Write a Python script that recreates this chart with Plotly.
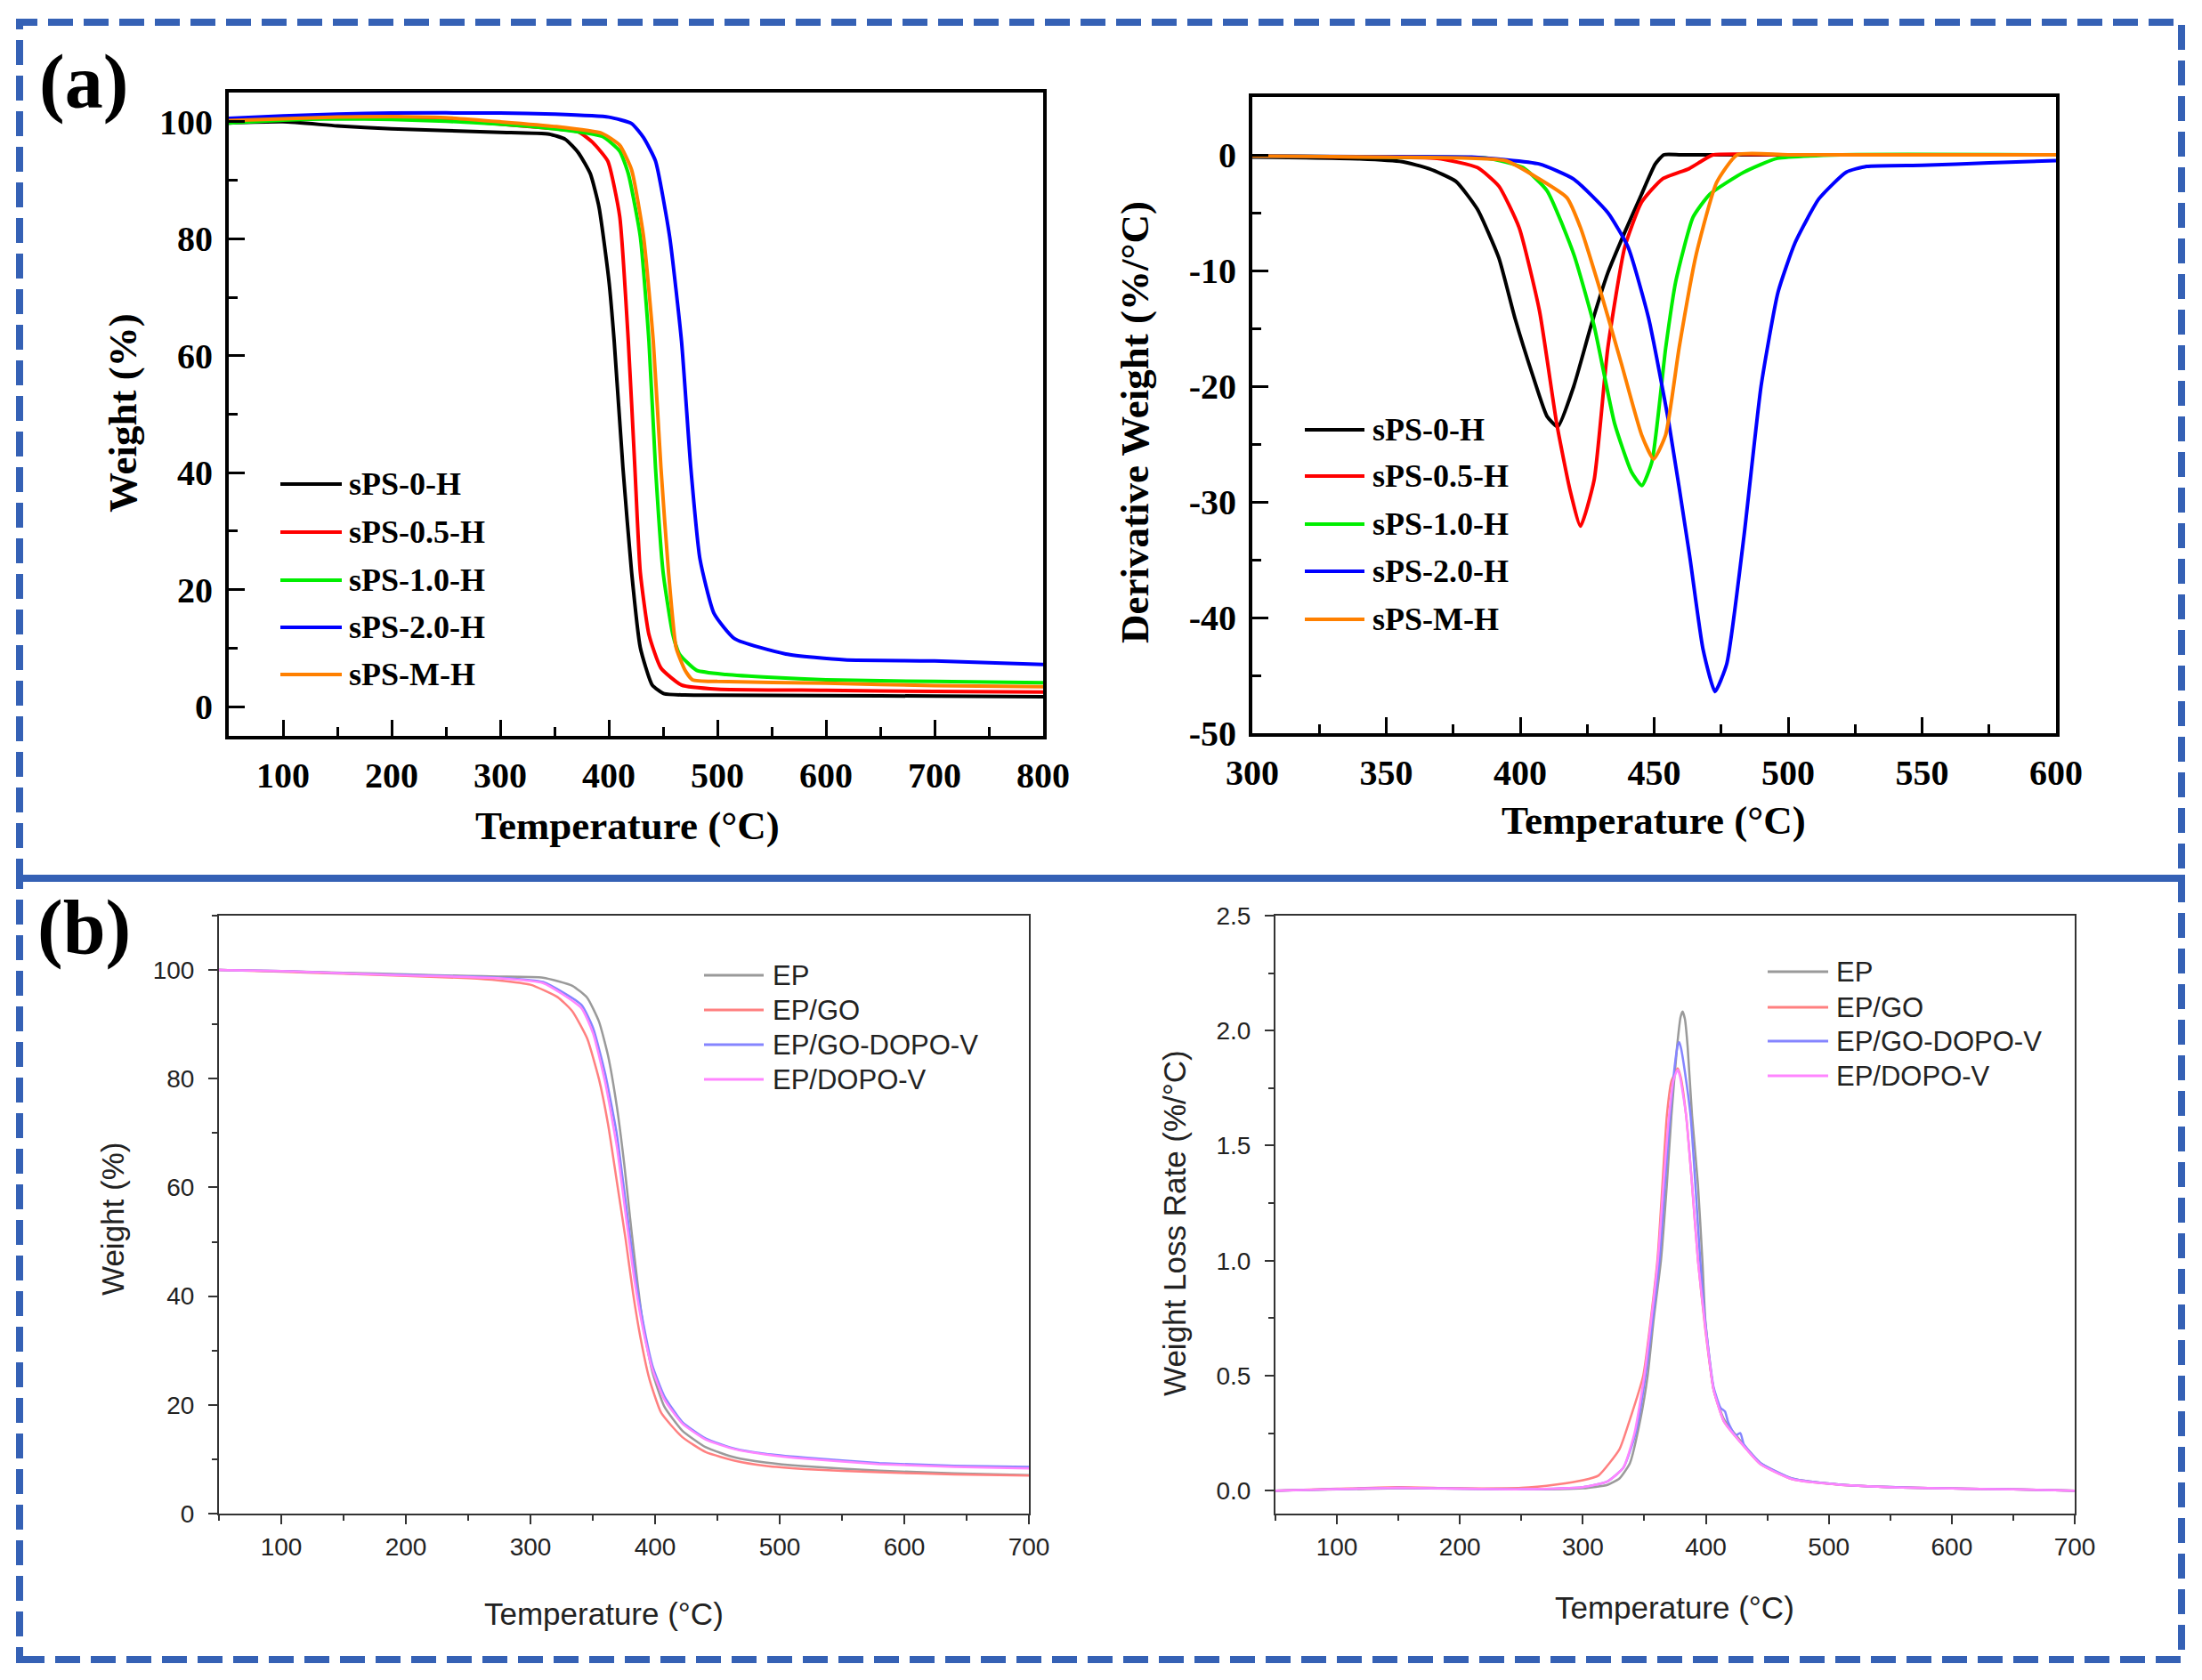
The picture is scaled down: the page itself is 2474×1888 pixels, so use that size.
import plotly.graph_objects as go

W_PX, H_PX = 2474, 1888

# ---------------- Panel (a) left: TGA of sPS samples ----------------
a_names = ["sPS-0-H", "sPS-0.5-H", "sPS-1.0-H", "sPS-2.0-H", "sPS-M-H"]
a_colors = ["#000000", "#ff0000", "#00ee00", "#0000ff", "#ff8000"]

tga_a_t_0 = [50, 100, 150, 200, 250, 300, 345, 360, 372, 383, 391, 400, 405, 413, 421, 429, 440, 451, 470, 500, 600, 700, 800]
tga_a_w_0 = [99.8, 100.0, 99.3, 98.8, 98.5, 98.2, 97.9, 97.0, 94.7, 91.1, 85.4, 73.0, 62.4, 40.9, 23.0, 10.1, 3.7, 2.2, 2.0, 1.95, 1.9, 1.8, 1.7]

tga_a_t_05 = [50, 100, 150, 200, 250, 300, 340, 372, 385, 399, 410, 418, 424, 429, 437, 448, 467, 500, 600, 700, 800]
tga_a_w_05 = [100.3, 100.6, 100.8, 100.8, 100.4, 99.6, 99.0, 98.3, 96.5, 93.3, 83.9, 62.4, 40.9, 23.0, 12.3, 6.6, 3.7, 3.0, 2.8, 2.6, 2.5]

tga_a_t_10 = [50, 100, 150, 200, 250, 300, 350, 394, 410, 418, 429, 437, 443, 450, 459, 465, 481, 508, 550, 600, 700, 800]
tga_a_w_10 = [99.8, 100.3, 100.5, 100.4, 100.1, 99.6, 98.8, 97.5, 95.0, 91.1, 80.4, 62.4, 40.9, 23.0, 12.3, 9.0, 6.2, 5.5, 5.0, 4.6, 4.3, 4.1]

tga_a_t_20 = [50, 100, 150, 200, 300, 350, 400, 421, 432, 443, 456, 467, 475.5, 484, 497, 516, 563, 617, 700, 800]
tga_a_w_20 = [100.6, 101.0, 101.3, 101.5, 101.5, 101.3, 100.8, 99.7, 97.3, 93.3, 80.4, 62.4, 40.9, 25.2, 15.9, 11.6, 9.0, 8.0, 7.8, 7.2]

tga_a_t_m = [50, 100, 150, 200, 250, 300, 350, 394, 410, 421, 432, 441, 448, 455, 462, 470, 477, 500, 600, 700, 800]
tga_a_w_m = [100.2, 100.5, 100.8, 100.9, 100.7, 100.0, 99.2, 98.0, 96.0, 91.8, 80.4, 62.4, 40.9, 23.0, 10.1, 6.3, 4.6, 4.3, 4.0, 3.6, 3.4]

# ---------------- Panel (a) right: DTG of sPS samples ----------------
dtg_a_t_0 = [300, 320, 340, 356, 366, 376, 384, 392, 398, 405, 410, 414, 420, 426.4, 432.7, 439, 445.3, 450.4, 453.6, 460, 500, 550, 600]
dtg_a_d_0 = [-0.2, -0.25, -0.35, -0.6, -1.2, -2.3, -4.7, -8.9, -14.1, -19.3, -22.6, -23.5, -20.0, -14.8, -10.2, -6.7, -3.4, -0.8, 0.0, 0.0, 0.0, 0.0, 0.0]

dtg_a_t_05 = [300, 340, 369, 384, 392, 399.6, 407.2, 413.6, 418.7, 422.5, 427.6, 432.7, 439, 445.3, 453, 463, 468, 472, 500, 550, 600]
dtg_a_d_05 = [-0.1, -0.2, -0.3, -1.1, -2.7, -6.3, -13.5, -23.2, -29.1, -32.1, -28.1, -16.7, -8.0, -4.1, -2.1, -1.2, -0.5, 0.0, 0.0, 0.0, 0.0]

dtg_a_t_10 = [300, 350, 388, 401, 410, 420, 427.6, 435.2, 441.5, 445.4, 449.2, 454.3, 458.1, 464.5, 470.8, 483.5, 496, 520, 600]
dtg_a_d_10 = [-0.1, -0.2, -0.3, -1.1, -3.1, -8.6, -14.8, -23.2, -27.4, -28.6, -26.5, -16.7, -10.9, -5.4, -3.4, -1.5, -0.3, 0.0, 0.0]

dtg_a_t_20 = [300, 340, 381.8, 407.2, 420, 432.7, 440.3, 447.9, 455.5, 463.2, 468.2, 472.7, 477.1, 483.5, 489.9, 496.2, 502.6, 511.5, 521.7, 529.3, 550, 575, 600]
dtg_a_d_20 = [-0.1, -0.15, -0.2, -0.8, -2.1, -5.0, -8.0, -14.1, -23.2, -34.6, -42.7, -46.4, -44.0, -33.0, -20.0, -11.9, -7.6, -3.8, -1.5, -1.0, -0.9, -0.7, -0.5]

dtg_a_t_m = [300, 350, 394.5, 407.2, 417.4, 422.5, 430.1, 437.7, 445.3, 449.8, 454.3, 459.3, 465.7, 473.3, 481, 500, 600]
dtg_a_d_m = [-0.1, -0.2, -0.5, -2.1, -3.7, -6.3, -11.9, -18.0, -24.2, -26.3, -24.2, -16.7, -8.6, -2.4, 0.0, 0.0, 0.0]

# ---------------- Panel (b) left: TGA of EP samples ----------------
b_names = ["EP", "EP/GO", "EP/GO-DOPO-V", "EP/DOPO-V"]
b_colors = ["#9a9a9a", "#ff8080", "#8585ff", "#ff85ff"]

tga_b_t_ep = [50, 100, 150, 200, 250, 274, 310, 333.6, 345.5, 355, 362.2, 369.3, 375.3, 381.2, 386, 390.7, 397.9, 407.4, 421.7, 440.7, 464.5, 488.3, 520, 580, 640, 700]
tga_b_w_ep = [100, 99.8, 99.5, 99.2, 98.9, 98.8, 98.6, 97.1, 94.9, 90.5, 84.3, 74.9, 64.2, 51.7, 42.3, 34.1, 26.0, 19.7, 15.3, 12.2, 10.3, 9.4, 8.7, 7.9, 7.4, 7.1]

tga_b_t_go = [50, 100, 150, 200, 250, 274, 300, 321.8, 333.6, 345.5, 355, 362.2, 369.3, 376.4, 382.4, 388.4, 395.5, 405, 421.7, 440.7, 464.5, 488.3, 520, 580, 640, 700]
tga_b_w_go = [100, 99.7, 99.3, 98.9, 98.5, 98.1, 97.3, 95.0, 92.4, 87.4, 79.9, 71.7, 61.1, 50.4, 40.4, 32.2, 24.7, 18.5, 14.1, 11.3, 9.7, 8.8, 8.2, 7.6, 7.2, 7.0]

tga_b_t_gdv = [50, 100, 150, 200, 250, 274, 310, 340.8, 350.3, 359.8, 369.3, 376.4, 383.4, 390.7, 397.9, 407.4, 421.7, 440.7, 464.5, 488.3, 520, 580, 640, 700]
tga_b_w_gdv = [100, 99.8, 99.4, 99.1, 98.8, 98.6, 97.8, 93.6, 89.3, 81.1, 69.8, 57.3, 44.8, 34.8, 27.2, 21.6, 16.9, 13.8, 11.9, 11.0, 10.3, 9.3, 8.8, 8.6]

tga_b_t_dv = [50, 100, 150, 200, 250, 274, 310, 340.8, 350.3, 359.8, 369.3, 376.4, 383.4, 390.7, 397.9, 407.4, 421.7, 440.7, 464.5, 488.3, 520, 580, 640, 700]
tga_b_w_dv = [100, 99.8, 99.4, 99.0, 98.7, 98.5, 97.6, 93.0, 88.3, 79.5, 67.5, 55.0, 43.0, 33.5, 26.5, 21.0, 16.6, 13.6, 11.8, 10.9, 10.1, 9.1, 8.6, 8.3]

# ---------------- Panel (b) right: DTG of EP samples ----------------
dtg_b_t_ep = [50, 100, 150, 200, 250, 300, 320, 329.8, 338.3, 346.8, 352.7, 357.5, 363.5, 368.3, 372, 376.6, 379.5, 381.1, 383, 385.2, 388.8, 393.6, 397.2, 399.6, 406.3, 414.8, 433.9, 444.5, 470, 508, 571, 650, 700]
dtg_b_d_ep = [0.0, 0.005, 0.01, 0.008, 0.005, 0.01, 0.025, 0.053, 0.12, 0.31, 0.5, 0.74, 1.0, 1.33, 1.63, 1.93, 2.06, 2.083, 2.05, 1.93, 1.63, 1.33, 1.0, 0.74, 0.44, 0.31, 0.18, 0.12, 0.053, 0.027, 0.012, 0.005, 0.0]

dtg_b_t_go = [50, 100, 150, 200, 250, 278.8, 300, 312.8, 329.8, 338.3, 349.1, 360.6, 364.7, 368.3, 372, 375.5, 377.2, 379.5, 384, 388.8, 393.6, 399.6, 406.3, 414.8, 433.9, 444.5, 470, 508, 571, 650, 700]
dtg_b_d_go = [0.0, 0.008, 0.015, 0.01, 0.012, 0.027, 0.045, 0.066, 0.18, 0.31, 0.5, 1.0, 1.33, 1.63, 1.78, 1.82, 1.836, 1.80, 1.63, 1.33, 1.0, 0.70, 0.44, 0.30, 0.175, 0.115, 0.05, 0.026, 0.012, 0.005, 0.0]

dtg_b_t_gdv = [50, 100, 150, 200, 250, 300, 320, 333, 343, 351, 362.3, 367, 371, 375, 377.3, 378.4, 380, 383, 387.6, 391.5, 395.5, 399.6, 406.3, 412, 415.6, 418, 424, 428.1, 431, 444.5, 470, 508, 571, 650, 700]
dtg_b_d_gdv = [0.0, 0.006, 0.012, 0.008, 0.006, 0.015, 0.04, 0.1, 0.25, 0.5, 1.0, 1.35, 1.63, 1.86, 1.94, 1.95, 1.92, 1.82, 1.63, 1.33, 1.0, 0.73, 0.45, 0.36, 0.344, 0.30, 0.24, 0.25, 0.2, 0.12, 0.053, 0.027, 0.012, 0.005, 0.0]

dtg_b_t_dv = [50, 100, 150, 200, 250, 300, 320, 333, 342, 350, 361, 365.5, 369.5, 373.5, 376, 377.2, 379, 384, 388.8, 393.6, 399.6, 406.3, 414.8, 433.9, 444.5, 470, 508, 571, 650, 700]
dtg_b_d_dv = [0.0, 0.006, 0.012, 0.008, 0.006, 0.015, 0.04, 0.1, 0.25, 0.5, 1.0, 1.33, 1.6, 1.78, 1.82, 1.83, 1.80, 1.63, 1.33, 1.0, 0.71, 0.44, 0.30, 0.175, 0.115, 0.05, 0.026, 0.012, 0.005, 0.0]

# tick labels
a_tga_xticks = [100, 200, 300, 400, 500, 600, 700, 800]
a_tga_yticks = [0, 20, 40, 60, 80, 100]
a_dtg_xticks = [300, 350, 400, 450, 500, 550, 600]
a_dtg_yticks = [0, -10, -20, -30, -40, -50]
a_dtg_ylabels = ["0", "-10", "-20", "-30", "-40", "-50"]
b_xticks = [100, 200, 300, 400, 500, 600, 700]
b_tga_yticks = [0, 20, 40, 60, 80, 100]
b_dtg_yticks = [0.0, 0.5, 1.0, 1.5, 2.0, 2.5]
b_dtg_ylabels = ["0.0", "0.5", "1.0", "1.5", "2.0", "2.5"]


def px(x):
    return x / W_PX


def py(y):
    return 1 - y / H_PX


SERIF = "Liberation Serif"
SANS = "Liberation Sans"

fig = go.Figure()

a_tga = [(tga_a_t_0, tga_a_w_0), (tga_a_t_05, tga_a_w_05), (tga_a_t_10, tga_a_w_10),
         (tga_a_t_20, tga_a_w_20), (tga_a_t_m, tga_a_w_m)]
a_dtg = [(dtg_a_t_0, dtg_a_d_0), (dtg_a_t_05, dtg_a_d_05), (dtg_a_t_10, dtg_a_d_10),
         (dtg_a_t_20, dtg_a_d_20), (dtg_a_t_m, dtg_a_d_m)]
b_tga = [(tga_b_t_ep, tga_b_w_ep), (tga_b_t_go, tga_b_w_go), (tga_b_t_gdv, tga_b_w_gdv), (tga_b_t_dv, tga_b_w_dv)]
b_dtg = [(dtg_b_t_ep, dtg_b_d_ep), (dtg_b_t_go, dtg_b_d_go), (dtg_b_t_gdv, dtg_b_d_gdv), (dtg_b_t_dv, dtg_b_d_dv)]

for (t, w), n, c in zip(a_tga, a_names, a_colors):
    fig.add_trace(go.Scatter(x=t, y=w, name=n, mode="lines", xaxis="x", yaxis="y",
                             line=dict(color=c, width=4, shape="spline", smoothing=0.5), showlegend=False))
for (t, d), n, c in zip(a_dtg, a_names, a_colors):
    fig.add_trace(go.Scatter(x=t, y=d, name=n, mode="lines", xaxis="x2", yaxis="y2",
                             line=dict(color=c, width=4, shape="spline", smoothing=0.5), showlegend=False))
for (t, w), n, c in zip(b_tga, b_names, b_colors):
    fig.add_trace(go.Scatter(x=t, y=w, name=n, mode="lines", xaxis="x3", yaxis="y3",
                             line=dict(color=c, width=2.5, shape="spline", smoothing=0.5), showlegend=False))
for (t, d), n, c in zip(b_dtg, b_names, b_colors):
    fig.add_trace(go.Scatter(x=t, y=d, name=n, mode="lines", xaxis="x4", yaxis="y4",
                             line=dict(color=c, width=2.5, shape="spline", smoothing=0.5), showlegend=False))

a_font = dict(family=SERIF, size=40, color="#000", weight="bold")
b_font = dict(family=SANS, size=28, color="#222")


def a_axis(domain, rng, tickvals, minor_dtick, anchor, ticktext=None):
    d = dict(domain=domain, range=rng, anchor=anchor, showgrid=False, zeroline=False,
             showline=True, linewidth=4, linecolor="#000", mirror=True, automargin=False,
             ticks="inside", ticklen=18, tickwidth=3, tickcolor="#000",
             tickmode="array", tickvals=tickvals, tickfont=a_font, ticklabelstandoff=6,
             minor=dict(ticks="inside", ticklen=10, tickwidth=3, tickcolor="#000", dtick=minor_dtick, showgrid=False))
    if ticktext is not None:
        d["ticktext"] = ticktext
    return d


def b_axis(domain, rng, tickvals, minor_dtick, anchor, ticktext=None, standoff=10):
    d = dict(domain=domain, range=rng, anchor=anchor, showgrid=False, zeroline=False,
             showline=True, linewidth=2, linecolor="#333", mirror=True, automargin=False,
             ticks="outside", ticklen=10, tickwidth=2, tickcolor="#333",
             tickmode="array", tickvals=tickvals, tickfont=b_font, ticklabelstandoff=standoff,
             minor=dict(ticks="outside", ticklen=6, tickwidth=2, tickcolor="#333", dtick=minor_dtick, showgrid=False))
    if ticktext is not None:
        d["ticktext"] = ticktext
    return d


fig.update_layout(
    width=W_PX, height=H_PX, margin=dict(l=0, r=0, t=0, b=0, pad=0, autoexpand=False),
    paper_bgcolor="white", plot_bgcolor="white", showlegend=False,
    xaxis=a_axis([px(257), px(1172)], [50, 800], a_tga_xticks, 50, "y"),
    yaxis=a_axis([py(827), py(104)], [-5, 105], a_tga_yticks, 10, "x"),
    xaxis2=a_axis([px(1407), px(2310)], [300, 600], a_dtg_xticks, 25, "y2"),
    yaxis2=a_axis([py(824), py(109)], [-50, 5], a_dtg_yticks, 5, "x2", a_dtg_ylabels),
    xaxis3=b_axis([px(246), px(1156)], [50, 700], b_xticks, 50, "y3", standoff=1),
    yaxis3=b_axis([py(1701), py(1029)], [0, 110], b_tga_yticks, 10, "x3"),
    xaxis4=b_axis([px(1433), px(2331)], [50, 700], b_xticks, 50, "y4", standoff=1),
    yaxis4=b_axis([py(1701), py(1029)], [-0.1, 2.5], b_dtg_yticks, 0.25, "x4", b_dtg_ylabels),
)

annotations = []
shapes = []


def text(x, y, s, font, angle=0, xanchor="center"):
    annotations.append(dict(x=px(x), y=py(y), xref="paper", yref="paper", text=s, showarrow=False,
                            font=font, textangle=angle, xanchor=xanchor, yanchor="middle"))


title_a = dict(family=SERIF, size=45, color="#000", weight="bold")
title_b = dict(family=SANS, size=35, color="#222")

text(705, 928, "Temperature (°C)", title_a)
text(138, 464, "Weight (%)", title_a, angle=-90)
text(1858, 922, "Temperature (°C)", title_a)
text(1275, 475, "Derivative Weight (%/°C)", title_a, angle=-90)
text(678, 1813, "Temperature (°C)", title_b)
text(126, 1370, "Weight (%)", title_b, angle=-90)
text(1881, 1806, "Temperature (°C)", title_b)
text(1319, 1375, "Weight Loss Rate (%/°C)", title_b, angle=-90)

panel_font = dict(family=SERIF, size=86, color="#000", weight="bold")
text(94, 92, "(a)", panel_font)
text(94, 1042, "(b)", panel_font)


def legend(x0, x1, xt, ys, names, colors, font, lw):
    for yy, n, c in zip(ys, names, colors):
        shapes.append(dict(type="line", xref="paper", yref="paper", x0=px(x0), x1=px(x1), y0=py(yy), y1=py(yy),
                           line=dict(color=c, width=lw)))
        text(xt, yy, n, font, xanchor="left")


leg_a = dict(family=SERIF, size=36, color="#000", weight="bold")
leg_b = dict(family=SANS, size=31, color="#222")
legend(315, 384, 390, [544, 598, 652, 705, 758], a_names, a_colors, leg_a, 4)
legend(1466, 1533, 1540, [483, 535, 589, 642, 696], a_names, a_colors, leg_a, 4)
legend(791, 858, 866, [1096, 1135, 1174, 1213], b_names, b_colors, leg_b, 3)
legend(1986, 2054, 2061, [1092, 1132, 1170, 1209], b_names, b_colors, leg_b, 3)

border = dict(color="#3561b5", width=8, dash="28px,12px")
shapes.append(dict(type="rect", xref="paper", yref="paper", x0=px(22), x1=px(2451), y0=py(987), y1=py(25), line=border))
shapes.append(dict(type="rect", xref="paper", yref="paper", x0=px(22), x1=px(2451), y0=py(1865), y1=py(987), line=border))

fig.update_layout(annotations=annotations, shapes=shapes)
fig.write_html("out.html")
